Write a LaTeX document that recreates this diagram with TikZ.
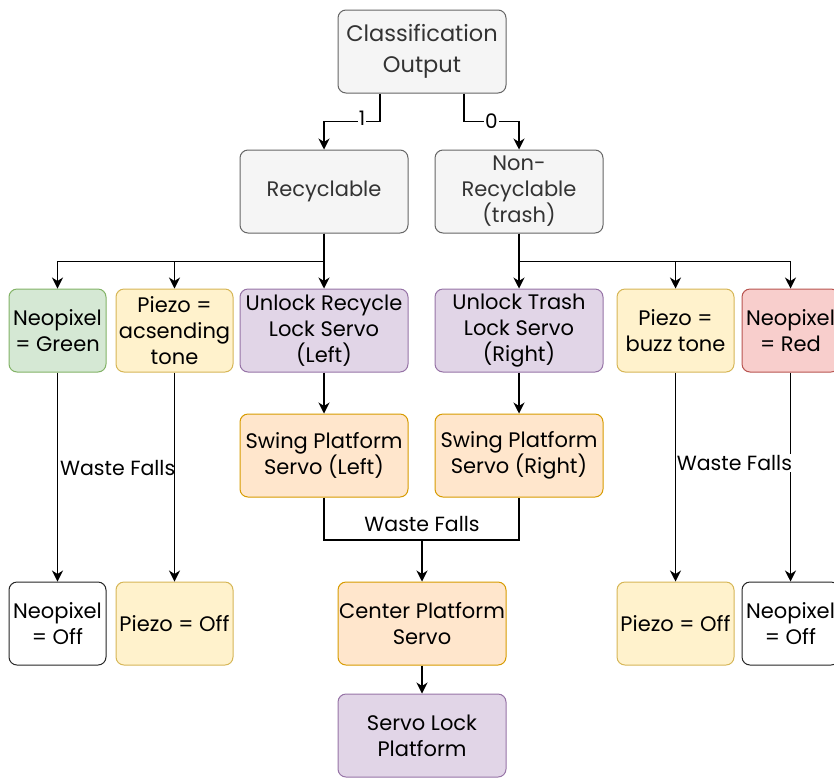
\documentclass[tikz,border=0pt]{standalone}
\usepackage{fontspec}
\setmainfont{Poppins}
\usetikzlibrary{arrows.meta,positioning}
\definecolor{grayF}{HTML}{F5F5F5}\definecolor{grayD}{HTML}{666666}
\definecolor{greenF}{HTML}{D5E8D4}\definecolor{greenD}{HTML}{82B366}
\definecolor{yelF}{HTML}{FFF2CC}\definecolor{yelD}{HTML}{D6B656}
\definecolor{purF}{HTML}{E1D5E7}\definecolor{purD}{HTML}{9673A6}
\definecolor{oraF}{HTML}{FFE6CC}\definecolor{oraD}{HTML}{D79B00}
\definecolor{redF}{HTML}{F8CECC}\definecolor{redD}{HTML}{B85450}
\definecolor{txtG}{HTML}{333333}
\tikzset{
  box/.style={rounded corners=8pt, draw, line width=1pt, align=center, inner sep=0pt,
    minimum height=83pt, font=\fontsize{21}{26}\selectfont},
  wide/.style={box, minimum width=168pt},
  narrow/.style={box, minimum width=97pt},
  mid/.style={box, minimum width=117pt},
  gbox/.style={fill=grayF, draw=grayD, text=txtG},
  grbox/.style={fill=greenF, draw=greenD},
  ybox/.style={fill=yelF, draw=yelD},
  pbox/.style={fill=purF, draw=purD},
  obox/.style={fill=oraF, draw=oraD},
  rbox/.style={fill=redF, draw=redD},
  wbox/.style={fill=white, draw=black!85},
  arr/.style={line width=1.1pt, -{Stealth[length=11pt,width=11pt,inset=3.5pt]}},
  ln/.style={line width=1.1pt},
  lbl/.style={font=\fontsize{20.5}{22}\selectfont, inner sep=1pt},
}
\begin{document}
\begin{tikzpicture}[x=1pt,y=-1pt]
\useasboundingbox (0,0) rectangle (834,777);
\node[wide,gbox,font=\fontsize{22.5}{31}\selectfont] (co) at (422,51.5) {Classification\\Output};
\node[wide,gbox] (rec) at (324,191.5) {Recyclable};
\node[wide,gbox] (non) at (519,191.5) {Non-\\Recyclable\\(trash)};

\node[narrow,grbox] (ng) at (57.5,330.5) {Neopixel\\= Green};
\node[mid,ybox] (pa) at (174.5,330.5) {Piezo =\\acsending\\tone};
\node[wide,pbox] (ur) at (324,330.5) {Unlock Recycle\\Lock Servo\\(Left)};
\node[wide,pbox] (ut) at (519,330.5) {Unlock Trash\\Lock Servo\\(Right)};
\node[mid,ybox] (pb) at (675.5,330.5) {Piezo =\\buzz tone};
\node[narrow,rbox] (nr) at (790.5,330.5) {Neopixel\\= Red};

\node[wide,obox] (sl) at (324,455.5) {Swing Platform\\Servo (Left)};
\node[wide,obox] (sr) at (519,455.5) {Swing Platform\\Servo (Right)};

\node[narrow,wbox] (no1) at (57.5,623.5) {Neopixel\\= Off};
\node[mid,ybox] (po1) at (174.5,623.5) {Piezo = Off};
\node[wide,obox] (cp) at (422,623.5) {Center Platform\\Servo};
\node[mid,ybox] (po2) at (675.5,623.5) {Piezo = Off};
\node[narrow,wbox] (no2) at (790.5,623.5) {Neopixel\\= Off};

\node[wide,pbox] (sp) at (422,735.5) {Servo Lock\\Platform};

% top connectors
\draw[arr] ([xshift=-42pt]co.south) -- ++(0,28) -| (rec.north)
  node[pos=0.16, lbl, fill=white, font=\fontsize{20}{20}\selectfont, yshift=3pt] {1};
\draw[arr] ([xshift=42pt]co.south) -- ++(0,28) -| (non.north)
  node[pos=0.25, lbl, fill=white, font=\fontsize{20}{20}\selectfont] {0};

% branches
\draw[arr] (rec.south) -- ++(0,28) -| (ng.north);
\draw[arr] (rec.south) -- ++(0,28) -| (pa.north);
\draw[arr] (rec.south) -- (ur.north);
\draw[arr] (non.south) -- (ut.north);
\draw[arr] (non.south) -- ++(0,28) -| (pb.north);
\draw[arr] (non.south) -- ++(0,28) -| (nr.north);

\draw[arr] (ur) -- (sl);
\draw[arr] (ut) -- (sr);

% waste falls
\coordinate (join) at (422,540);
\draw[ln] (sl.south) |- (join) -| (sr.south);
\node[lbl, above=7pt of join] (wf) {Waste Falls};
\draw[arr] (join) -- (cp.north);
\draw[arr] (cp) -- (sp);

\draw[arr] (ng) -- (no1) node[pos=0.457, lbl, anchor=west, xshift=1pt] {Waste Falls};
\draw[arr] (pa) -- (po1);
\draw[arr] (pb) -- (po2);
\draw[arr] (nr) -- (no2) node[pos=0.433, lbl, anchor=east, xshift=3pt, fill=white] {Waste Falls};
\end{tikzpicture}
\end{document}
